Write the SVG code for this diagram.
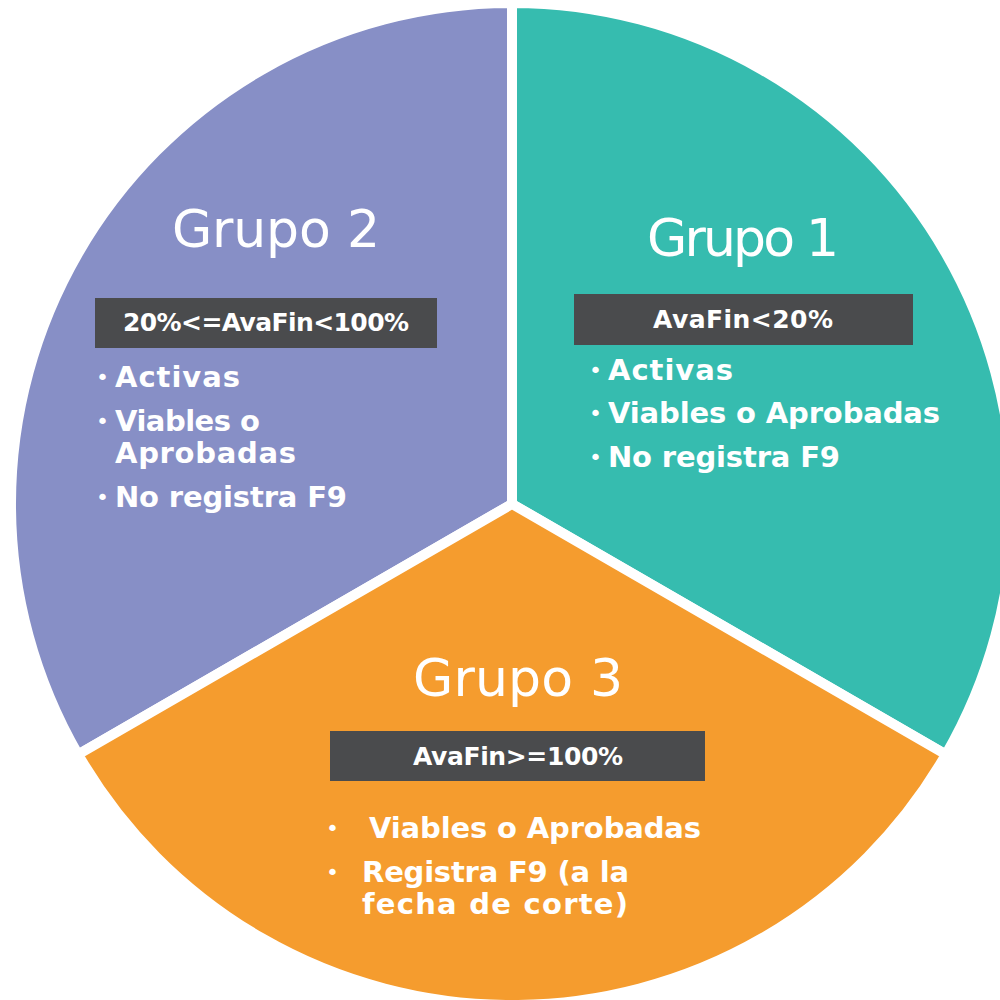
<svg xmlns="http://www.w3.org/2000/svg" width="1000" height="1000" viewBox="0 0 1000 1000">
<style>
.slice{stroke:#ffffff;stroke-width:10;stroke-linejoin:miter}
.title{font-family:"DejaVu Sans","Liberation Sans",sans-serif;font-size:52px;fill:#ffffff;text-anchor:middle}
.box{fill:#4a4b4d}
.boxt{font-family:"DejaVu Sans","Liberation Sans",sans-serif;font-weight:bold;font-size:25px;fill:#ffffff;text-anchor:middle}
.item{font-family:"DejaVu Sans","Liberation Sans",sans-serif;font-weight:bold;font-size:29px;fill:#ffffff}
.bul{font-family:"DejaVu Sans","Liberation Sans",sans-serif;font-size:22px;fill:#ffffff}
</style>
<rect width="1000" height="1000" fill="#ffffff"/>
<g id="grupo1">
<path class="slice" fill="#36bcaf" d="M512,504 L512,3 A501,501 0 0 1 945.9,754.5 Z"/>
<text class="title" x="743" y="256" textLength="192">Grupo 1</text>
<rect class="box" x="574" y="294" width="339" height="51"/>
<text class="boxt" x="743" y="328" textLength="180">AvaFin&lt;20%</text>
<text class="bul" x="589" y="378">•</text>
<text class="item" x="608" y="380" textLength="125">Activas</text>
<text class="bul" x="589" y="421">•</text>
<text class="item" x="608" y="423" textLength="332">Viables o Aprobadas</text>
<text class="bul" x="589" y="465">•</text>
<text class="item" x="608" y="467" textLength="232">No registra F9</text>
</g>
<g id="grupo2">
<path class="slice" fill="#878fc6" d="M512,504 L78.1,754.5 A501,501 0 0 1 512,3 Z"/>
<text class="title" x="276" y="247" textLength="208">Grupo 2</text>
<rect class="box" x="95" y="298" width="342" height="50"/>
<text class="boxt" x="266" y="331" textLength="286">20%&lt;=AvaFin&lt;100%</text>
<text class="bul" x="96" y="385">•</text>
<text class="item" x="115" y="387" textLength="125">Activas</text>
<text class="bul" x="96" y="429">•</text>
<text class="item" x="115" y="431" textLength="145">Viables o</text>
<text class="item" x="115" y="463" textLength="181">Aprobadas</text>
<text class="bul" x="96" y="505">•</text>
<text class="item" x="115" y="507" textLength="232">No registra F9</text>
</g>
<g id="grupo3">
<path class="slice" fill="#f59c2e" d="M512,504 L945.9,754.5 A501,501 0 0 1 78.1,754.5 Z"/>
<text class="title" x="518" y="696" textLength="210">Grupo 3</text>
<rect class="box" x="330" y="731" width="375" height="50"/>
<text class="boxt" x="518" y="765" textLength="210">AvaFin&gt;=100%</text>
<text class="bul" x="326" y="836">•</text>
<text class="item" x="369" y="838" textLength="332">Viables o Aprobadas</text>
<text class="bul" x="326" y="880">•</text>
<text class="item" x="362" y="882" textLength="267">Registra F9 (a la</text>
<text class="item" x="362" y="914" textLength="266">fecha de corte)</text>
</g>
</svg>
